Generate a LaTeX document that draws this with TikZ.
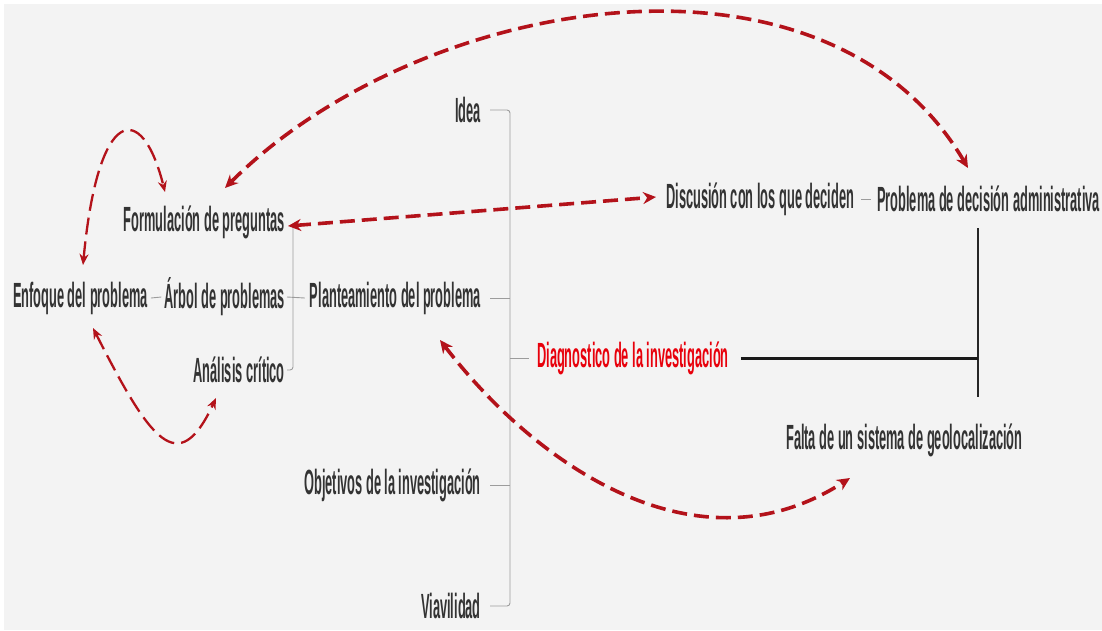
\documentclass[tikz,border=0pt]{standalone}
\usepackage{fontspec}
\newfontfamily\lblfont[FakeStretch=0.366]{Liberation Sans Bold}
\usetikzlibrary{arrows.meta}
\definecolor{arrowred}{HTML}{B3121A}
\definecolor{txtgrey}{HTML}{333333}
\definecolor{diagred}{HTML}{E8000B}
\definecolor{bggrey}{HTML}{F3F3F3}
\definecolor{brkgrey}{HTML}{9C9C9C}

\begin{document}
\begin{tikzpicture}[x=1pt,y=-1pt,
    lbl/.style={font=\lblfont\fontsize{35}{35}\selectfont, text=txtgrey, inner sep=0pt},
    brk/.style={draw=brkgrey, line width=0.9pt, rounded corners=3pt},
    redarrow/.style={draw=arrowred, line width=3.6pt, dash pattern=on 15pt off 7pt,
        {Stealth[length=13pt,width=12pt]}-{Stealth[length=13pt,width=12pt]}},
    thinarrow/.style={draw=arrowred, line width=2.3pt, dash pattern=on 17pt off 7pt,
        {Stealth[length=11pt,width=9pt]}-{Stealth[length=11pt,width=9pt]}}]
    \useasboundingbox (0,0) rectangle (1102,630);
    \fill[white] (0,0) rectangle (1102,630);
    \fill[bggrey] (4,4) rectangle (1102,630);

    % centre column
    \node[lbl, anchor=east] (idea) at (481,110) {Idea};
    \node[lbl, anchor=east] (plant) at (481,298) {Planteamiento del problema};
    \node[lbl, anchor=east] (obj) at (481,485) {Objetivos de la investigación};
    \node[lbl, anchor=east] (viav) at (481,606) {Viavilidad};
    \node[lbl, anchor=west, text=diagred] (diag) at (537,358) {Diagnostico de la investigación};

    % left branch
    \node[lbl, anchor=east] (form) at (285,222) {Formulación de preguntas};
    \node[lbl, anchor=east] (arbol) at (285,297) {Árbol de problemas};
    \node[lbl, anchor=east] (anal) at (285,370) {Análisis crítico};
    \node[lbl, anchor=west] (enfo) at (13,298) {Enfoque del problema};

    % right branch
    \node[lbl, anchor=west] (disc) at (666,199) {Discusión con los que deciden};
    \node[lbl, anchor=west] (prob) at (877,199) {Problema de decisión administrativa};
    \node[lbl, anchor=west] (falta) at (786,440) {Falta de un sistema de geolocalización};

    % brackets
    \coordinate (rbar) at (510,0);
    \coordinate (lbtop) at (293,228);
    \draw[brk] ([xshift=9pt]idea.east) -- (idea.east -| rbar) -- (viav.east -| rbar) -- ([xshift=9pt]viav.east);
    \draw[brk] ([xshift=9pt]plant.east) -- (plant.east -| rbar);
    \draw[brk] ([xshift=9pt]obj.east) -- (obj.east -| rbar);
    \draw[brk] (diag.west -| rbar) -- ([xshift=-8pt]diag.west);
    \draw[brk] (lbtop) -- (anal.east -| lbtop) -- ([xshift=2pt]anal.east);
    \draw[brk] ([xshift=2pt]arbol.east) -- ([xshift=-5pt]plant.west);
    \draw[brk] ([xshift=3pt]enfo.east) -- ([xshift=-3pt]arbol.west);
    \draw[brk] ([xshift=7pt]disc.east) -- ([xshift=-6pt]prob.west);

    % black lines
    \coordinate (vtop) at (978,228);
    \coordinate (vbot) at (978,397);
    \draw[line width=1.4pt, black!85] (vtop) -- (vbot);
    \draw[line width=3pt, black!90] ([xshift=12pt]diag.east) -- (diag.east -| vtop);

    % red arrows
    \coordinate (arcL) at (225,188);
    \coordinate (arcR) at (968,168);
    \coordinate (loopA1) at (83,265);
    \coordinate (loopA2) at (165,192);
    \coordinate (loopB1) at (93,328);
    \coordinate (loopB2) at (216,398);
    \coordinate (bowL) at (440,340);
    \coordinate (bowR) at (850,478);
    \draw[redarrow] (arcL) .. controls (418,-5) and (825,-75) .. (arcR);
    \draw[redarrow] ([xshift=3pt,yshift=-4pt]form.east) -- ([xshift=-10pt,yshift=2pt]disc.west);
    \draw[redarrow] (bowL) .. controls (540,470) and (700,575) .. (bowR);
    \draw[thinarrow] (loopA1) .. controls (98,105) and (142,100) .. (loopA2);
    \draw[thinarrow] (loopB1) .. controls (150,440) and (178,480) .. (loopB2);
\end{tikzpicture}
\end{document}
